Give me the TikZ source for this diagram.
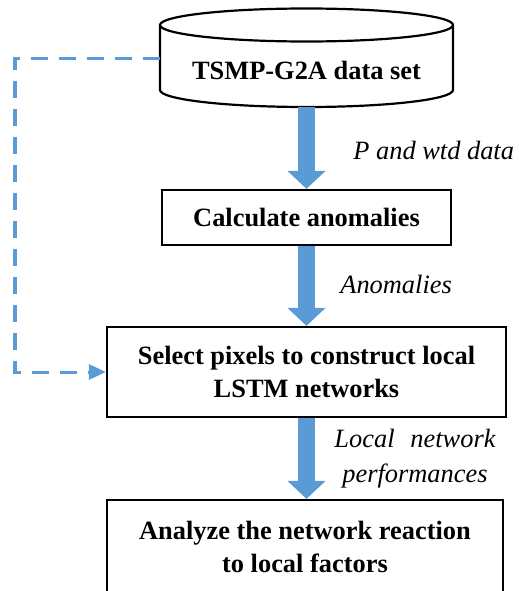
\documentclass[tikz,border=0pt]{standalone}
\usepackage{fontspec}
\setmainfont{Liberation Serif}
\usepackage{xcolor}
\usetikzlibrary{arrows.meta}
\definecolor{flowblue}{HTML}{5B9BD5}
\tikzset{
  box/.style={draw,line width=1.1pt,align=center,inner sep=0pt,
    font=\bfseries\fontsize{13.2}{16.5}\selectfont},
  flow/.style={flowblue,line width=8.5pt,-{Triangle[width=18.5pt,length=9pt]}},
  feed/.style={flowblue,line width=1.5pt,dash pattern=on 8.5pt off 5.5pt,
    -{Triangle[width=7.5pt,length=8.5pt]}},
  note/.style={inner sep=0pt,align=center,font=\itshape\fontsize{13.2}{17.5}\selectfont}
}
\begin{document}
\begin{tikzpicture}[x=0.5pt,y=0.5pt]
	\useasboundingbox (0,0) rectangle (519,591);
	% data set cylinder
	\draw[line width=1.1pt] (306.5,566) ellipse (146.5 and 16.5);
	\draw[line width=1.1pt] (160,566) -- (160,501)
	      arc[start angle=180,end angle=360,x radius=146.5,y radius=17] -- (453,566);
	\node[box,draw=none] (data) at (306.5,521) {TSMP-G2A data set};
	\coordinate (cylbot) at (306.5,484);
	\coordinate (cylside) at (160,533);
	% steps
	\node[box,minimum width=144.5pt,minimum height=27.5pt] (calc) at (306.5,373.5) {Calculate anomalies};
	\node[box,minimum width=199.5pt,minimum height=45pt] (sel) at (306.5,219)
	      {Select pixels to construct local\\LSTM networks};
	\node[box,minimum width=198pt,minimum height=46.5pt] (ana) at (305,44.5)
	      {Analyze the network reaction\\to local factors};
	% flows
	\draw[flow] (cylbot) -- (calc.north);
	\draw[flow] (calc.south) -- (sel.north);
	\draw[flow] (sel.south) -- (sel.south |- ana.north);
	\draw[feed] (cylside) -- (15,533) |- (sel.west);
	% labels
	\node[note,anchor=west] (lbla) at (353,441) {P and wtd data};
	\node[note,anchor=west] (lblb) at (340,307) {Anomalies};
	\node[note] (lblc) at (415,132) {Local\hspace{0.6em}network\\performances};
\end{tikzpicture}
\end{document}
